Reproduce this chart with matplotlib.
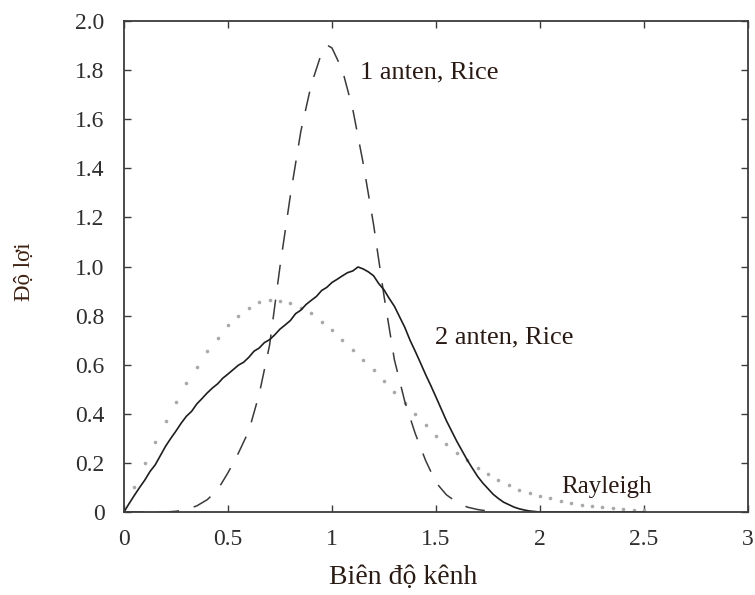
import numpy as np
import matplotlib
matplotlib.use("Agg")
import matplotlib.pyplot as plt

plt.rcParams['font.family'] = ['Liberation Serif', 'DejaVu Serif']

# 2 antennas, Rice channel (solid)
x_rice2 = [0.000, 0.025, 0.050, 0.075, 0.100, 0.125, 0.150, 0.175, 0.200, 0.225,
           0.250, 0.275, 0.300, 0.325, 0.350, 0.375, 0.400, 0.425, 0.450, 0.475,
           0.500, 0.525, 0.550, 0.575, 0.600, 0.625, 0.650, 0.675, 0.700, 0.725,
           0.750, 0.775, 0.800, 0.825, 0.850, 0.875, 0.900, 0.925, 0.950, 0.975,
           1.000, 1.025, 1.050, 1.075, 1.100, 1.125, 1.150, 1.175, 1.200, 1.225,
           1.250, 1.275, 1.300, 1.325, 1.350, 1.375, 1.400, 1.425, 1.450, 1.475,
           1.500, 1.525, 1.550, 1.575, 1.600, 1.625, 1.650, 1.675, 1.700, 1.725,
           1.750, 1.775, 1.800, 1.825, 1.850, 1.875, 1.900, 1.925, 1.950, 1.975,
           2.000, 2.250, 2.500]
y_rice2 = [0.000, 0.035, 0.068, 0.100, 0.130, 0.165, 0.192, 0.230, 0.268, 0.300,
           0.330, 0.362, 0.390, 0.410, 0.440, 0.462, 0.485, 0.505, 0.522, 0.545,
           0.562, 0.580, 0.598, 0.610, 0.630, 0.655, 0.668, 0.690, 0.702, 0.722,
           0.745, 0.762, 0.780, 0.808, 0.822, 0.845, 0.862, 0.878, 0.902, 0.915,
           0.935, 0.948, 0.962, 0.975, 0.982, 0.998, 0.990, 0.978, 0.962, 0.930,
           0.905, 0.870, 0.838, 0.795, 0.752, 0.700, 0.655, 0.608, 0.560, 0.515,
           0.468, 0.420, 0.372, 0.330, 0.288, 0.250, 0.212, 0.178, 0.145, 0.118,
           0.095, 0.072, 0.055, 0.040, 0.030, 0.020, 0.013, 0.008, 0.004, 0.002,
           0.000, 0.000, 0.000]

# 1 antenna, Rice channel (dashed)
x_rice1 = [0.00, 0.20, 0.25, 0.30, 0.35, 0.40, 0.45, 0.50, 0.55, 0.60, 0.65,
           0.70, 0.75, 0.80, 0.85, 0.90, 0.95, 0.98, 1.00, 1.05, 1.10, 1.15,
           1.20, 1.25, 1.30, 1.35, 1.40, 1.45, 1.50, 1.55, 1.60, 1.65, 1.70,
           1.75, 1.80]
y_rice1 = [0.000, 0.000, 0.003, 0.010, 0.025, 0.050, 0.090, 0.160, 0.240, 0.330,
           0.480, 0.680, 1.000, 1.290, 1.550, 1.740, 1.870, 1.900, 1.890, 1.800,
           1.640, 1.420, 1.170, 0.880, 0.620, 0.450, 0.320, 0.210, 0.120, 0.070,
           0.040, 0.020, 0.010, 0.004, 0.000]

# Rayleigh channel (dotted)
x_ray = [0.00, 0.05, 0.10, 0.15, 0.20, 0.25, 0.30, 0.35, 0.40, 0.45, 0.50,
         0.55, 0.60, 0.65, 0.70, 0.75, 0.80, 0.85, 0.90, 0.95, 1.00, 1.05,
         1.10, 1.15, 1.20, 1.25, 1.30, 1.35, 1.40, 1.45, 1.50, 1.55, 1.60,
         1.65, 1.70, 1.75, 1.80, 1.85, 1.90, 1.95, 2.00, 2.05, 2.10, 2.15,
         2.20, 2.25, 2.30, 2.35, 2.40, 2.45, 2.50]
y_ray = [0.000, 0.100, 0.200, 0.285, 0.370, 0.450, 0.525, 0.590, 0.655, 0.710,
         0.760, 0.800, 0.830, 0.855, 0.865, 0.860, 0.850, 0.830, 0.810, 0.775,
         0.740, 0.700, 0.660, 0.620, 0.580, 0.535, 0.490, 0.445, 0.400, 0.355,
         0.310, 0.275, 0.240, 0.210, 0.180, 0.155, 0.130, 0.110, 0.090, 0.077,
         0.065, 0.055, 0.045, 0.037, 0.030, 0.025, 0.020, 0.016, 0.013, 0.010,
         0.008]

x_ticks = [0, 0.5, 1, 1.5, 2, 2.5, 3]
x_ticklabels = ["0", "0.5", "1", "1.5", "2", "2.5", "3"]
y_ticks = [0, 0.2, 0.4, 0.6, 0.8, 1.0, 1.2, 1.4, 1.6, 1.8, 2.0]
y_ticklabels = ["0", "0.2", "0.4", "0.6", "0.8", "1.0", "1.2", "1.4", "1.6", "1.8", "2.0"]

fig = plt.figure(figsize=(7.55, 5.95), dpi=100)
ax = fig.add_axes([124 / 755, 1 - 512 / 595, 624 / 755, 491 / 595])

ax.plot(x_ray, y_ray, linestyle='none', marker='o', markersize=2.6,
        color='#a9a9a9', markeredgewidth=0)
ax.plot(x_rice1, y_rice1, color='#3a3a3a', linewidth=1.1,
        linestyle=(0, (13, 10)))
ax.plot(x_rice2, y_rice2, color='#1e1e1e', linewidth=1.2)

ax.set_xlim(0, 3)
ax.set_ylim(0, 2.0)
ax.set_xticks(x_ticks)
ax.set_xticklabels(x_ticklabels)
ax.set_yticks(y_ticks)
ax.set_yticklabels(y_ticklabels)

for s in ax.spines.values():
    s.set_color('#3c3c3c')
    s.set_linewidth(1.3)

ax.tick_params(axis='both', direction='in', length=5, width=1.0,
               colors='#3c3c3c', labelcolor='#2e2e2e', labelsize=17,
               top=True, right=True)
ax.tick_params(axis='x', pad=12)
ax.tick_params(axis='y', pad=14)

text_color = '#2a1a14'
ax.text(1.135, 1.79, "1 anten, Rice", fontsize=19, color=text_color,
        ha='left', va='center')
ax.text(1.495, 0.71, "2 anten, Rice", fontsize=19, color=text_color,
        ha='left', va='center')
ax.text(2.10, 0.10, "Rayleigh", fontsize=18, color=text_color,
        ha='left', va='center')

ax.set_xlabel("Biên độ kênh", fontsize=20, color=text_color)
ax.xaxis.set_label_coords(0.447, -0.134)
ax.set_ylabel("Độ lợi", fontsize=16.5, color='#3d1f10')
ax.yaxis.set_label_coords(-0.160, 0.489)
ax.yaxis.label.set_va('center')
ax.xaxis.label.set_va('center')

fig.savefig("out.png", dpi=100)
